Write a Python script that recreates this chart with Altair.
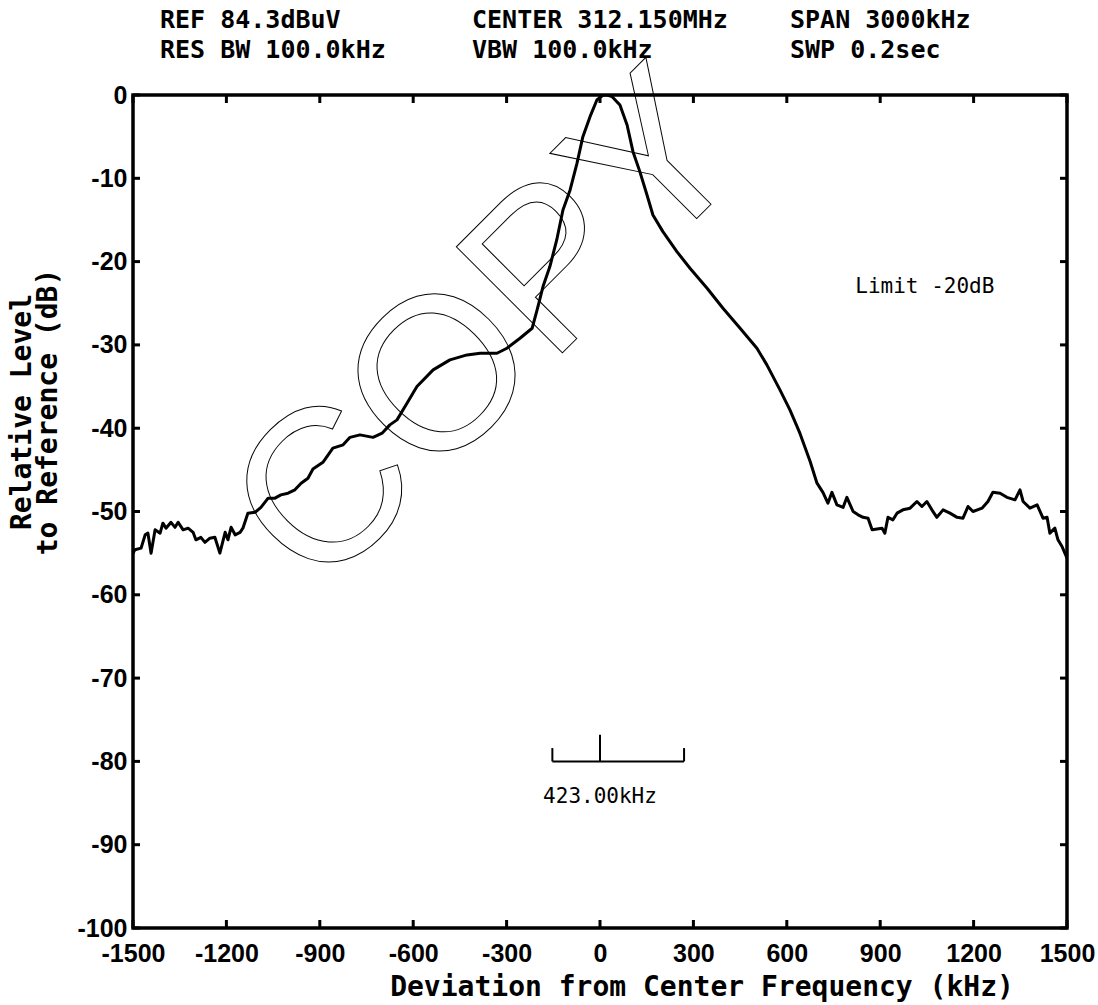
import altair as alt
import pandas as pd

# ---------------- data ----------------
freq_khz = [
    -1500, -1494, -1474, -1461, -1452, -1442, -1429, -1413, -1404, -1394,
    -1378, -1365, -1355, -1339, -1323, -1307, -1298, -1282, -1269, -1253,
    -1237, -1221, -1204, -1195, -1185, -1172, -1156, -1147, -1131, -1108,
    -1089, -1066, -1044, -1025, -1002, -980, -960, -938, -922, -890,
    -858, -825, -803, -771, -729, -700, -675, -652, -620, -588,
    -536, -482, -427, -385, -331, -299, -257, -218, -202, -183,
    -161, -139, -119, -96, -74, -55, -32, -10, 10, 23,
    39, 64, 87, 106, 128, 151, 170, 202, 247, 289,
    344, 395, 450, 504, 536, 578, 610, 642, 675, 697,
    716, 732, 745, 761, 781, 793, 813, 829, 845, 861,
    874, 906, 915, 925, 941, 954, 973, 996, 1018, 1034,
    1050, 1066, 1082, 1102, 1124, 1147, 1166, 1182, 1198, 1227,
    1246, 1262, 1285, 1307, 1333, 1349, 1359, 1381, 1404, 1423,
    1436, 1445, 1461, 1471, 1484, 1500,
]
level_db = [
    -55.0, -54.6, -54.4, -52.8, -52.6, -55.0, -52.2, -52.6, -51.4, -52.0,
    -51.3, -51.9, -51.3, -52.2, -52.0, -52.5, -53.4, -53.1, -53.7, -53.2,
    -53.1, -55.0, -52.5, -53.4, -51.9, -52.8, -52.5, -52.0, -50.2, -50.1,
    -49.5, -48.4, -48.4, -48.0, -47.8, -47.4, -46.6, -46.0, -44.9, -44.1,
    -42.4, -42.0, -41.1, -40.8, -41.1, -40.6, -39.6, -39.0, -37.0, -35.0,
    -33.0, -31.8, -31.2, -31.0, -31.0, -30.4, -29.2, -28.0, -25.8, -23.0,
    -20.6, -17.4, -13.8, -11.4, -8.2, -5.0, -2.6, -0.6, 0.0, 0.0,
    -0.2, -1.2, -3.6, -6.8, -9.2, -12.0, -14.4, -16.4, -18.8, -20.8,
    -23.2, -25.6, -28.0, -30.4, -32.4, -35.4, -37.8, -40.6, -44.0, -46.6,
    -47.7, -49.0, -47.7, -49.2, -49.5, -48.3, -50.0, -50.4, -50.7, -50.8,
    -52.2, -52.0, -52.6, -50.7, -51.0, -50.2, -49.8, -49.6, -48.8, -49.4,
    -48.8, -49.8, -50.7, -49.8, -50.2, -50.7, -50.8, -49.4, -50.0, -49.6,
    -48.8, -47.7, -47.8, -48.3, -48.6, -47.4, -48.8, -49.6, -49.2, -50.8,
    -50.7, -52.6, -52.0, -53.4, -54.2, -55.6,
]

x_ticks = [-1500, -1200, -900, -600, -300, 0, 300, 600, 900, 1200, 1500]
y_ticks = [0, -10, -20, -30, -40, -50, -60, -70, -80, -90, -100]

header_line1 = ["REF 84.3dBuV", "CENTER 312.150MHz", "SPAN 3000kHz"]
header_line2 = ["RES BW 100.0kHz", "VBW 100.0kHz", "SWP 0.2sec"]
y_title = ["Relative Level", "to Reference (dB)"]
x_title = "Deviation from Center Frequency (kHz)"

limit_text = "Limit -20dB"
limit_x = [820]
limit_y = [-23.8]

marker_text = "423.00kHz"
marker_seg_x = [-153, -153, 270, 0]
marker_seg_x2 = [270, -153, 270, 0]
marker_seg_y = [-80.0, -80.0, -80.0, -80.0]
marker_seg_y2 = [-80.0, -78.4, -78.4, -76.8]
marker_label_x = [0]
marker_label_y = [-85.0]

watermark = "COPY"
watermark_x = [-350]
watermark_y = [-28.5]

# ---------------- chart ----------------
W, H = 934, 833
xs = alt.Scale(domain=[-1500, 1500], nice=False, zero=False)
ys = alt.Scale(domain=[-100, 0], nice=False, zero=False)

LABEL_FONT = "Liberation Sans"
MONO = "DejaVu Sans Mono"

x_axis = alt.Axis(
    values=x_ticks, title=None, domain=False, ticks=False, tickSize=0,
    grid=False, labelExpr="'' + datum.value", labelFont=LABEL_FONT,
    labelFontSize=25, labelFontWeight="bold", labelColor="black",
    labelPadding=13, labelFlush=False, labelOverlap=False)
y_axis = alt.Axis(
    values=y_ticks, title=None, domain=False, ticks=False, tickSize=0,
    grid=False, labelExpr="'' + datum.value", labelFont=LABEL_FONT,
    labelFontSize=25, labelFontWeight="bold", labelColor="black",
    labelPadding=6, labelFlush=False, labelOverlap=False)


def X(field):
    return alt.X(field, scale=xs, axis=x_axis)


def Y(field):
    return alt.Y(field, scale=ys, axis=y_axis)


trace_df = pd.DataFrame({"f": freq_khz, "db": level_db})

trace = alt.Chart(trace_df).mark_line(
    color="black", strokeWidth=3, strokeJoin="round", clip=True
).encode(x=X("f:Q"), y=Y("db:Q"))

ydf = pd.DataFrame({"v": y_ticks})
xdf = pd.DataFrame({"v": x_ticks})
tick_kw = dict(color="black", strokeWidth=3)
left_ticks = alt.Chart(ydf).mark_rule(**tick_kw).encode(
    y=Y("v:Q"), x=alt.value(0), x2=alt.value(7))
right_ticks = alt.Chart(ydf).mark_rule(**tick_kw).encode(
    y=Y("v:Q"), x=alt.value(W - 7), x2=alt.value(W))
bottom_ticks = alt.Chart(xdf).mark_rule(**tick_kw).encode(
    x=X("v:Q"), y=alt.value(H - 8), y2=alt.value(H))
top_ticks = alt.Chart(xdf).mark_rule(**tick_kw).encode(
    x=X("v:Q"), y=alt.value(0), y2=alt.value(8))

wm = alt.Chart(pd.DataFrame({"t": [watermark], "x": watermark_x, "y": watermark_y})).mark_text(
    font="Liberation Sans", fontSize=218, angle=315, fillOpacity=0,
    stroke="black", strokeWidth=1, align="center", baseline="middle"
).encode(x=X("x:Q"), y=Y("y:Q"), text="t:N")

marker_df = pd.DataFrame({"x": marker_seg_x, "x2": marker_seg_x2,
                          "y": marker_seg_y, "y2": marker_seg_y2})
marker = alt.Chart(marker_df).mark_rule(color="black", strokeWidth=2).encode(
    x=X("x:Q"), x2="x2:Q", y=Y("y:Q"), y2="y2:Q")

marker_lbl = alt.Chart(pd.DataFrame({"t": [marker_text], "x": marker_label_x, "y": marker_label_y})).mark_text(
    font=MONO, fontSize=21, align="center", baseline="alphabetic", color="black"
).encode(x=X("x:Q"), y=Y("y:Q"), text="t:N")

limit_lbl = alt.Chart(pd.DataFrame({"t": [limit_text], "x": limit_x, "y": limit_y})).mark_text(
    font=MONO, fontSize=21, align="left", baseline="alphabetic", color="black"
).encode(x=X("x:Q"), y=Y("y:Q"), text="t:N")


def pixel_text(txt, px, py, size, angle=0, align="left", baseline="alphabetic"):
    kw = dict(font=MONO, fontSize=size, fontWeight="bold", align=align,
              baseline=baseline, color="black")
    if angle:
        kw["angle"] = angle
    return alt.Chart(pd.DataFrame({"t": [txt]})).mark_text(**kw).encode(
        text="t:N", x=alt.value(px), y=alt.value(py))


col_x = [27, 339, 657]
headers = []
for i, t in enumerate(header_line1):
    headers.append(pixel_text(t, col_x[i], -67, 25))
for i, t in enumerate(header_line2):
    headers.append(pixel_text(t, col_x[i], -37, 25))

ytitle1 = pixel_text(y_title[0], -110, 317, 28, angle=270, align="center", baseline="middle")
ytitle2 = pixel_text(y_title[1], -84, 317, 28, angle=270, align="center", baseline="middle")
xtitle = pixel_text(x_title, 569, 901, 28, align="center")

chart = alt.layer(
    trace, wm, left_ticks, right_ticks, bottom_ticks, top_ticks,
    marker, marker_lbl, limit_lbl, ytitle1, ytitle2, xtitle, *headers
).properties(
    width=W, height=H,
    autosize=alt.AutoSizeParams(type="none"),
    padding={"left": 133, "top": 95, "right": 31, "bottom": 77},
    background="white",
).configure_view(stroke="black", strokeWidth=3.5)

chart.save("out.html", embed_options={"renderer": "svg", "actions": False})
